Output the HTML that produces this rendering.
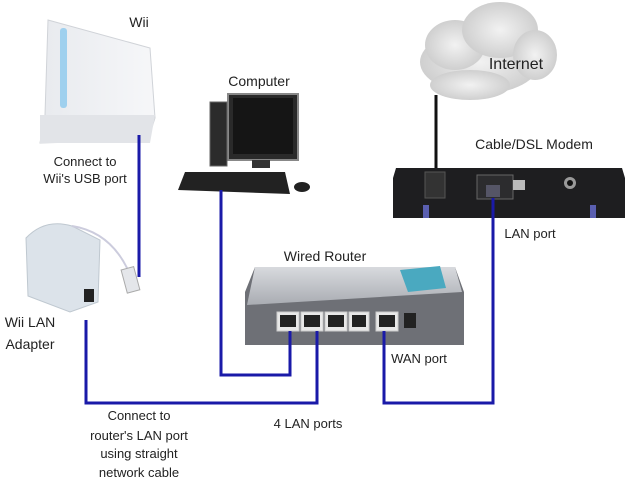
<!DOCTYPE html>
<html><head><style>body{margin:0;background:#fff}svg{display:block}text{font-family:"Liberation Sans",sans-serif;fill:#222}</style></head><body>
<svg width="638" height="479" viewBox="0 0 638 479" xmlns="http://www.w3.org/2000/svg">
<defs>
<linearGradient id="wg" x1="0" x2="1"><stop offset="0" stop-color="#e8eaee"/><stop offset="1" stop-color="#f6f7f9"/></linearGradient>
<linearGradient id="rg" x1="0" y1="0" x2="0" y2="1"><stop offset="0" stop-color="#d8dade"/><stop offset="1" stop-color="#a9acb2"/></linearGradient>
<radialGradient id="cg"><stop offset="0" stop-color="#f2f2f2"/><stop offset="1" stop-color="#cfcfcf"/></radialGradient>
</defs>
<!-- cloud -->
<g fill="url(#cg)">
<ellipse cx="480" cy="62" rx="60" ry="32"/><ellipse cx="455" cy="45" rx="30" ry="25"/><ellipse cx="500" cy="30" rx="38" ry="28"/><ellipse cx="535" cy="55" rx="22" ry="25"/><ellipse cx="470" cy="85" rx="40" ry="15"/>
</g>
<text x="516" y="69" font-size="16" text-anchor="middle">Internet</text>
<!-- modem -->
<line x1="436" y1="95" x2="436" y2="170" stroke="#111" stroke-width="3"/>
<text x="534" y="149" font-size="14" text-anchor="middle">Cable/DSL Modem</text>
<path d="M396 168 L622 168 L625 178 L625 218 L393 218 L393 178Z" fill="#1e1e20"/>
<rect x="425" y="172" width="20" height="26" fill="#333" stroke="#555"/>
<rect x="477" y="175" width="36" height="24" fill="#2c2c2e" stroke="#666"/>
<rect x="486" y="185" width="14" height="12" fill="#556"/>
<rect x="513" y="180" width="12" height="10" fill="#bbb"/>
<circle cx="570" cy="183" r="6" fill="#999"/><circle cx="570" cy="183" r="3" fill="#111"/>
<rect x="423" y="205" width="6" height="13" fill="#5a5fb0"/><rect x="590" y="205" width="6" height="13" fill="#5a5fb0"/>
<text x="530" y="238" font-size="13" text-anchor="middle">LAN port</text>
<!-- Wii -->
<path d="M48 20 L150 48 L155 118 L148 140 L40 143 L45 115Z" fill="url(#wg)" stroke="#d0d3d8"/>
<path d="M40 115 L155 115 L150 143 L40 143Z" fill="#e2e4e8"/>
<rect x="60" y="28" width="7" height="80" rx="3" fill="#9fd0ee"/>
<text x="139" y="27" font-size="14" text-anchor="middle">Wii</text>
<text x="85" y="166" font-size="13" text-anchor="middle">Connect to</text>
<text x="85" y="183" font-size="13" text-anchor="middle">Wii's USB port</text>
<!-- computer -->
<text x="259" y="86" font-size="14" text-anchor="middle">Computer</text>
<rect x="228" y="94" width="70" height="66" fill="#2a2a2a" stroke="#888" stroke-width="2"/>
<rect x="233" y="98" width="60" height="56" fill="#151515"/>
<rect x="210" y="102" width="17" height="64" fill="#2b2b2b" stroke="#666"/>
<rect x="252" y="160" width="18" height="8" fill="#333"/>
<path d="M185 172 L285 172 L290 194 L178 190Z" fill="#222"/>
<ellipse cx="302" cy="187" rx="8" ry="5" fill="#222"/>
<!-- adapter -->
<path d="M26 238 Q45 218 72 226 L100 240 L98 302 L70 312 L28 296Z" fill="#dce3ea" stroke="#bfc8d0"/>
<rect x="84" y="289" width="10" height="13" fill="#222"/>
<path d="M72 226 Q110 232 128 270" fill="none" stroke="#ccd" stroke-width="2"/>
<rect x="124" y="268" width="13" height="24" fill="#e4e6ea" stroke="#aaa" transform="rotate(-15 130 280)"/>
<text x="30" y="327" font-size="14" text-anchor="middle">Wii LAN</text>
<text x="30" y="349" font-size="14" text-anchor="middle">Adapter</text>
<!-- router -->
<text x="325" y="261" font-size="14" text-anchor="middle">Wired Router</text>
<path d="M255 267 L455 267 L464 292 L464 345 L245 345 L245 292Z" fill="#6e7076"/>
<path d="M255 267 L455 267 L462 292 L247 305 Z" fill="url(#rg)"/>
<path d="M400 270 L440 266 L446 288 L408 292Z" fill="#4aa9c0"/>
<g fill="#e8e8e8" stroke="#ccc"><rect x="277" y="312" width="22" height="19"/><rect x="301" y="312" width="22" height="19"/><rect x="325" y="312" width="22" height="19"/><rect x="349" y="312" width="20" height="19"/><rect x="376" y="312" width="22" height="19"/></g>
<g fill="#222"><rect x="280" y="315" width="16" height="12"/><rect x="304" y="315" width="16" height="12"/><rect x="328" y="315" width="16" height="12"/><rect x="352" y="315" width="14" height="12"/><rect x="379" y="315" width="16" height="12"/></g>
<rect x="404" y="313" width="12" height="15" fill="#222"/>
<!-- cables -->
<g fill="none" stroke="#1a1aa8" stroke-width="3">
<polyline points="139,135 139,277"/>
<polyline points="86,320 86,403 317,403 317,331"/>
<polyline points="221,190 221,375 290,375 290,331"/>
<polyline points="384,331 384,403 493,403 493,198"/>
</g>
<text x="419" y="363" font-size="13" text-anchor="middle">WAN port</text>
<text x="308" y="428" font-size="13" text-anchor="middle">4 LAN ports</text>
<g font-size="13" text-anchor="middle"><text x="139" y="420">Connect to</text><text x="139" y="440">router's LAN port</text><text x="139" y="458">using straight</text><text x="139" y="477">network cable</text></g>
</svg>
</body></html>
